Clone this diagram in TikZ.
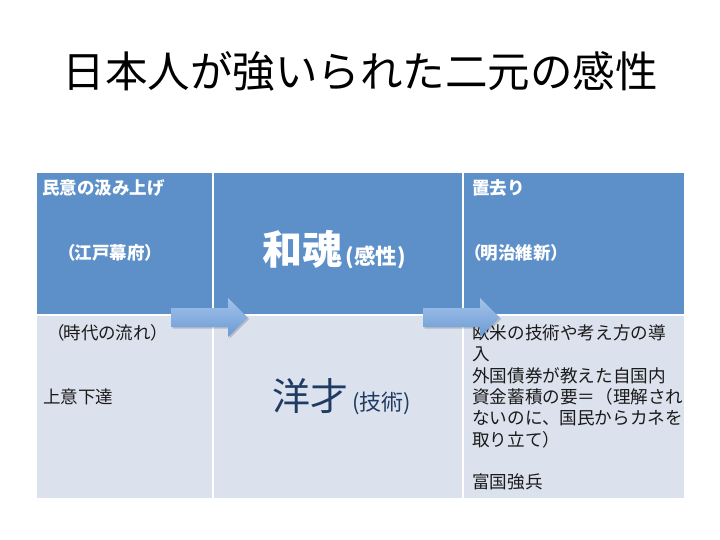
\documentclass[tikz,border=0pt]{standalone}
\usepackage{fontspec}
\setmainfont{Noto Sans CJK JP}
\newfontfamily\jpp{Noto Sans CJK JP}[RawFeature=+palt]
\usetikzlibrary{calc}
\definecolor{hdr}{HTML}{5D90C8}
\definecolor{bodyc}{HTML}{DCE2ED}
\definecolor{navy}{HTML}{1F3B63}
\definecolor{txt}{HTML}{1A1A1A}
\definecolor{arrtop}{HTML}{A3C3EA}
\definecolor{arrbot}{HTML}{6B9AD5}
\tikzset{
  cellline/.style={draw=white, line width=1.5pt},
  hdrtext/.style={anchor=west, inner sep=0pt, text=white, font=\fontsize{17.5}{20}\selectfont\bfseries},
  bodytext/.style={anchor=west, inner sep=0pt, text=txt, font=\fontsize{17.5}{20}\selectfont},
  blockarrow/.style={top color=arrtop, bottom color=arrbot, draw=none},
  arrshadow/.style={fill=black, opacity=0.18, draw=none}
}
\begin{document}
\begin{tikzpicture}[x=1pt,y=-1pt]
\useasboundingbox[fill=white] (0,0) rectangle (720,540);
% title
\node[inner sep=0pt, text=black, font=\fontsize{42.5}{46}\selectfont] (title) at (360,71) {日本人が強いられた二元の感性};
% cells
\fill[hdr] (37,173) rectangle (684,315);
\fill[bodyc] (37,315) rectangle (684,498);
\draw[cellline] (213,173) -- (213,498);
\draw[cellline] (463,173) -- (463,498);
\draw[cellline] (37,315) -- (684,315);
% header texts
\node[hdrtext] (h1) at (42,188) {民意の汲み上げ};
\node[hdrtext, font=\jpp\fontsize{17.5}{20}\selectfont\bfseries] (h1b) at (66,253) {（江戸幕府）};
\node[inner sep=0pt, text=white, font=\bfseries] (wakon) at (334,250) {\fontsize{40}{44}\selectfont 和魂\fontsize{21.5}{23}\selectfont\,(感性)};
\node[hdrtext] (h3) at (472,188) {置去り};
\node[hdrtext, font=\jpp\fontsize{17.5}{20}\selectfont\bfseries] (h3b) at (472,253) {（明治維新）};
% body texts
\node[bodytext, font=\jpp\fontsize{17.5}{20}\selectfont] (b1) at (55,333) {（時代の流れ）};
\node[bodytext] (b1b) at (43,397) {上意下達};
\node[inner sep=0pt, text=navy] (yosai) at (342,397) {\fontsize{38}{42}\selectfont 洋才\fontsize{22}{24}\selectfont\,(技術)};
\node[bodytext, anchor=north west, align=left, font=\fontsize{17.6}{21.3}\selectfont] (b3) at (472,324.5) {欧米の技術や考え方の導\\入\\外国債券が教えた自国内\\資金蓄積の要＝（理解され\\ないのに、国民からカネを\\取り立て）\\[21.3pt]富国強兵};
% arrows
\foreach \x in {171,423} {
  \fill[arrshadow] (\x+1.5,309.5) -- (\x+58.5,309.5) -- (\x+58.5,299.5) -- (\x+78,319) -- (\x+58.5,338.5) -- (\x+58.5,328.5) -- (\x+1.5,328.5) -- cycle;
  \path[blockarrow] (\x,308) -- (\x+57,308) -- (\x+57,298) -- (\x+76.5,317.5) -- (\x+57,337) -- (\x+57,327) -- (\x,327) -- cycle;
}
\end{tikzpicture}
\end{document}
